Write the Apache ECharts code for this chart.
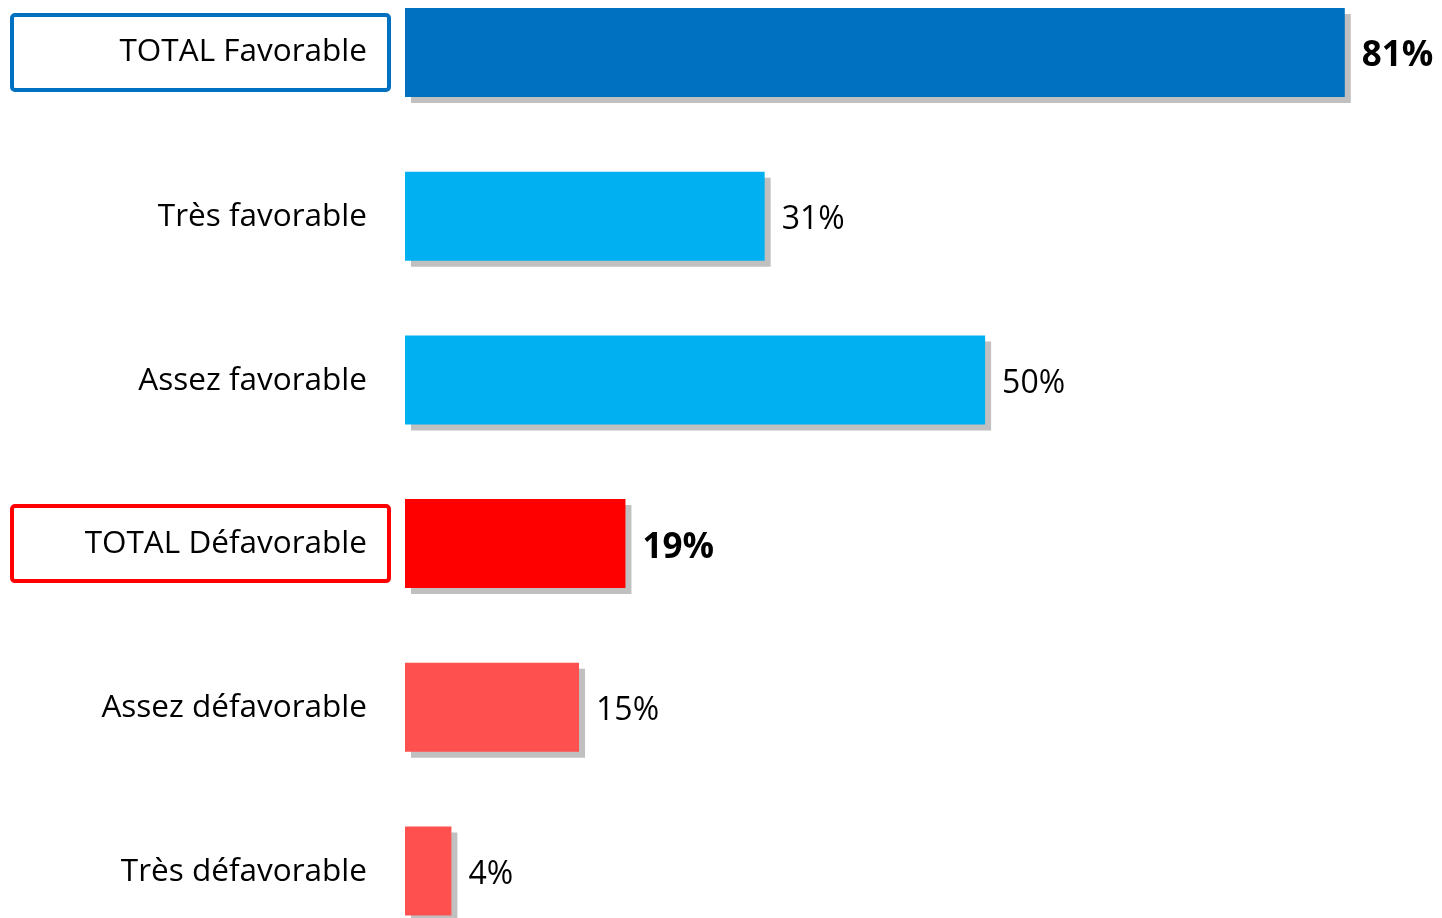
<!DOCTYPE html>
<html><head><meta charset="utf-8">
<script src="https://cdn.jsdelivr.net/npm/echarts@6/dist/echarts.min.js"></script>
<style>html,body{margin:0;padding:0;background:#fff}#c{width:1442px;height:918px}</style>
</head><body><div id="c"></div>
<script>
const categories = ['TOTAL Favorable','Très favorable','Assez favorable','TOTAL Défavorable','Assez défavorable','Très défavorable'];
const values = [81, 31, 50, 19, 15, 4];
const colors = ['#0070C0','#00B0F0','#00B0F0','#FF0000','#FF5050','#FF5050'];
const totals = ['TOTAL Favorable','TOTAL Défavorable'];

const FONT = 'Open Sans';
const chart = echarts.init(document.getElementById('c'));
chart.setOption({
  animation:false,
  grid:{left:405, right:16, top:52.5, bottom:47, containLabel:false},
  xAxis:{type:'value', min:0, max:88, show:false},
  yAxis:{type:'category', data:categories, inverse:true, boundaryGap:false,
    axisLine:{show:false}, axisTick:{show:false}, splitLine:{show:false},
    axisLabel:{margin:16, fontFamily:FONT,
      formatter:(v)=>{ if(v===totals[0]) return '{fav|'+v+'}'; if(v===totals[1]) return '{def|'+v+'}'; return '{n|'+v+'}'; },
      rich:{
        n:{fontFamily:FONT, fontSize:31.5, color:'#000', width:355, height:75, align:'right', padding:[2,22,0,0]},
        fav:{fontFamily:FONT, fontSize:31.5, color:'#000', width:355, height:75, align:'right', padding:[0,22,0,0], borderColor:'#0070C0', borderWidth:4, borderRadius:3},
        def:{fontFamily:FONT, fontSize:31.5, color:'#000', width:355, height:75, align:'right', padding:[0,22,0,0], borderColor:'#FF0000', borderWidth:4, borderRadius:3}
      }}},
  series:[{type:'bar', barWidth:89,
    data: values.map((v,i)=>({value:v, itemStyle:{color:colors[i]},
      label:{fontWeight: totals.includes(categories[i]) ? 'bold' : 'normal', fontSize: totals.includes(categories[i]) ? 35 : 32}})),
    itemStyle:{shadowColor:'#c0c0c0', shadowBlur:0, shadowOffsetX:6, shadowOffsetY:6},
    label:{show:true, position:'right', distance:17, offset:[0,4], fontFamily:FONT, color:'#000', formatter:'{c}%'}
  }]
});
</script></body></html>
